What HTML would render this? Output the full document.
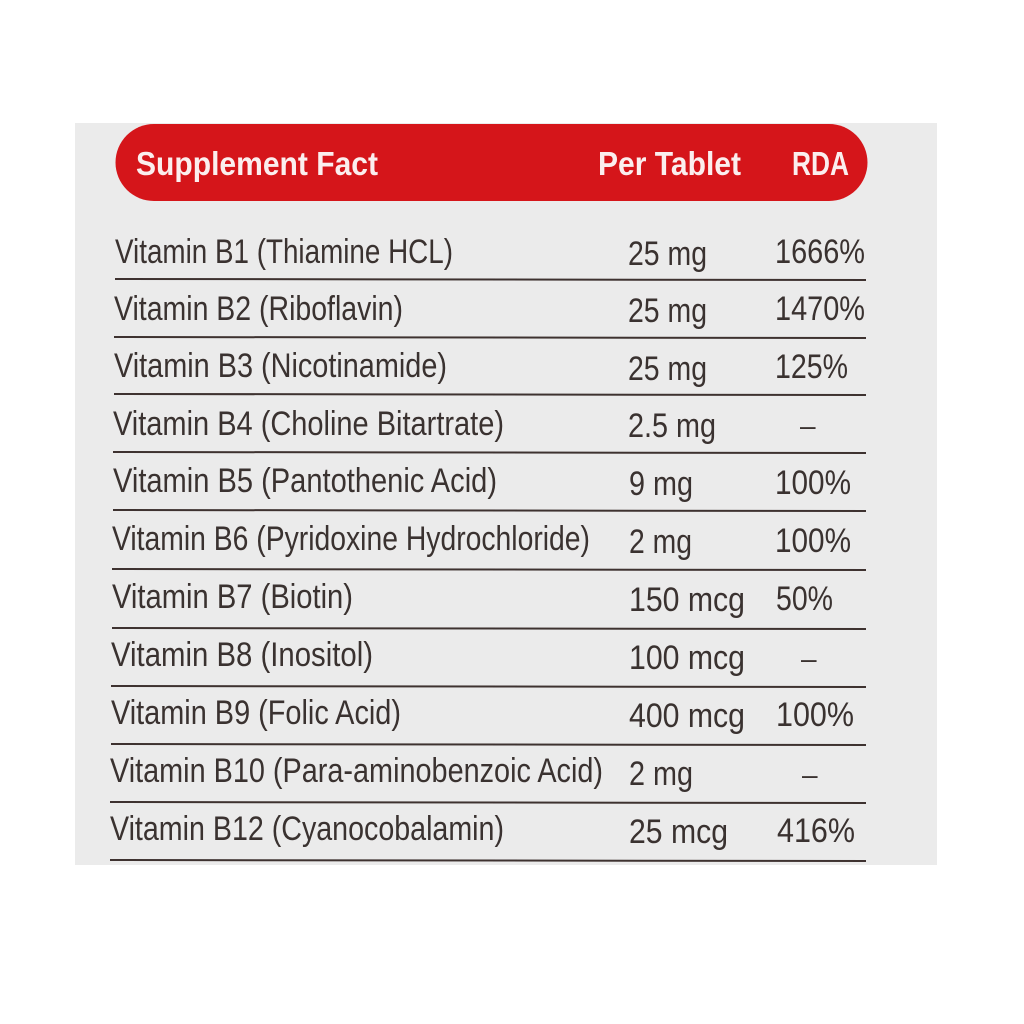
<!DOCTYPE html>
<html><head><style>body{margin:0;background:#fff}svg{display:block}</style></head><body>
<svg width="1024" height="1024" viewBox="0 0 1024 1024" xmlns="http://www.w3.org/2000/svg" font-family="Liberation Sans, sans-serif">
<rect x="0" y="0" width="1024" height="1024" fill="#fff"/>
<rect x="75" y="123" width="862" height="742" fill="#ebebeb"/>
<path d="M154,124 H829 A38.5,38.5 0 0 1 829,201 H154 A38.5,38.5 0 0 1 154,124 Z" fill="#d5151a"/>
<g fill="#fbeeee" font-size="33" font-weight="bold">
<text x="136" y="175" textLength="242" lengthAdjust="spacingAndGlyphs">Supplement Fact</text>
<text x="598" y="175" textLength="143" lengthAdjust="spacingAndGlyphs">Per Tablet</text>
<text x="792" y="175" textLength="57" lengthAdjust="spacingAndGlyphs">RDA</text>
</g>
<g fill="#3a3230" font-size="34">
<text x="115" y="263" textLength="338" lengthAdjust="spacingAndGlyphs">Vitamin B1 (Thiamine HCL)</text>
<text x="628" y="265" textLength="79" lengthAdjust="spacingAndGlyphs">25 mg</text>
<text x="775" y="263" textLength="90" lengthAdjust="spacingAndGlyphs">1666%</text>

<text x="114" y="320" textLength="289" lengthAdjust="spacingAndGlyphs">Vitamin B2 (Riboflavin)</text>
<text x="628" y="322" textLength="79" lengthAdjust="spacingAndGlyphs">25 mg</text>
<text x="775" y="320" textLength="90" lengthAdjust="spacingAndGlyphs">1470%</text>

<text x="114" y="377" textLength="333" lengthAdjust="spacingAndGlyphs">Vitamin B3 (Nicotinamide)</text>
<text x="628" y="380" textLength="79" lengthAdjust="spacingAndGlyphs">25 mg</text>
<text x="775" y="378" textLength="73" lengthAdjust="spacingAndGlyphs">125%</text>

<text x="113" y="435" textLength="391" lengthAdjust="spacingAndGlyphs">Vitamin B4 (Choline Bitartrate)</text>
<text x="628" y="437" textLength="88" lengthAdjust="spacingAndGlyphs">2.5 mg</text>
<text x="800" y="435" font-size="28">–</text>

<text x="113" y="492" textLength="384" lengthAdjust="spacingAndGlyphs">Vitamin B5 (Pantothenic Acid)</text>
<text x="629" y="495" textLength="64" lengthAdjust="spacingAndGlyphs">9 mg</text>
<text x="775" y="494" textLength="76" lengthAdjust="spacingAndGlyphs">100%</text>

<text x="112" y="550" textLength="478" lengthAdjust="spacingAndGlyphs">Vitamin B6 (Pyridoxine Hydrochloride)</text>
<text x="629" y="553" textLength="63" lengthAdjust="spacingAndGlyphs">2 mg</text>
<text x="775" y="552" textLength="76" lengthAdjust="spacingAndGlyphs">100%</text>

<text x="112" y="608" textLength="241" lengthAdjust="spacingAndGlyphs">Vitamin B7 (Biotin)</text>
<text x="629" y="611" textLength="116" lengthAdjust="spacingAndGlyphs">150 mcg</text>
<text x="776" y="610" textLength="57" lengthAdjust="spacingAndGlyphs">50%</text>

<text x="111" y="666" textLength="262" lengthAdjust="spacingAndGlyphs">Vitamin B8 (Inositol)</text>
<text x="629" y="669" textLength="116" lengthAdjust="spacingAndGlyphs">100 mcg</text>
<text x="801" y="668" font-size="28">–</text>

<text x="111" y="724" textLength="290" lengthAdjust="spacingAndGlyphs">Vitamin B9 (Folic Acid)</text>
<text x="629" y="727" textLength="116" lengthAdjust="spacingAndGlyphs">400 mcg</text>
<text x="776" y="726" textLength="78" lengthAdjust="spacingAndGlyphs">100%</text>

<text x="110" y="782" textLength="493" lengthAdjust="spacingAndGlyphs">Vitamin B10 (Para-aminobenzoic Acid)</text>
<text x="629" y="785" textLength="64" lengthAdjust="spacingAndGlyphs">2 mg</text>
<text x="802" y="784" font-size="28">–</text>

<text x="110" y="840" textLength="394" lengthAdjust="spacingAndGlyphs">Vitamin B12 (Cyanocobalamin)</text>
<text x="629" y="843" textLength="99" lengthAdjust="spacingAndGlyphs">25 mcg</text>
<text x="777" y="842" textLength="78" lengthAdjust="spacingAndGlyphs">416%</text>
</g>
<g stroke="#3e3230" stroke-width="2">
<line x1="115" y1="279" x2="866" y2="280"/>
<line x1="114" y1="337" x2="866" y2="338"/>
<line x1="114" y1="394" x2="866" y2="395"/>
<line x1="113" y1="452" x2="866" y2="453"/>
<line x1="113" y1="510" x2="866" y2="511"/>
<line x1="112" y1="569" x2="866" y2="570"/>
<line x1="112" y1="628" x2="866" y2="629"/>
<line x1="111" y1="686" x2="866" y2="687"/>
<line x1="111" y1="744" x2="866" y2="745"/>
<line x1="110" y1="802" x2="866" y2="803"/>
<line x1="110" y1="860" x2="866" y2="861"/>
</g>
</svg>
</body></html>
